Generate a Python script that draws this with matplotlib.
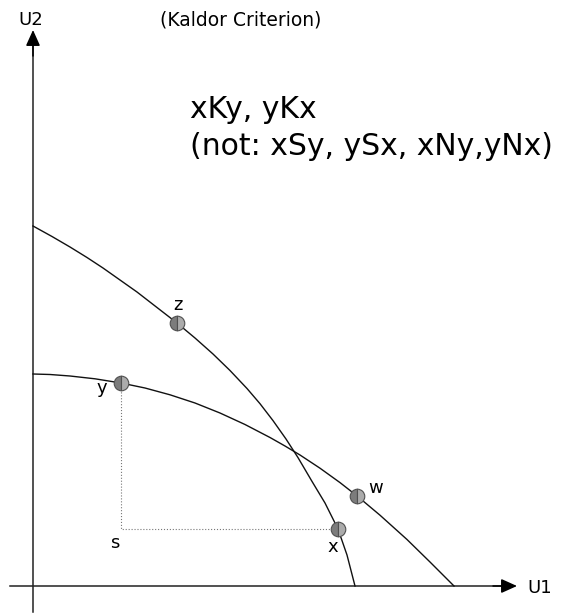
import numpy as np
import matplotlib
matplotlib.use("Agg")
import matplotlib.pyplot as plt

# utility frontiers (U1, U2)
frontier_a_u1 = [0, 19, 37, 54, 70, 87, 104, 124, 144, 162, 180, 197, 214,
                 227, 240, 253, 265, 279, 292, 305, 314, 322]
frontier_a_u2 = [360, 349.5, 339, 328.5, 318, 306, 294, 278.5, 263, 248, 232,
                 215.5, 197.5, 182.3, 165.4, 147, 128.4, 104.6, 83, 57, 31, 0]
frontier_b_u1 = [0, 17, 37, 62, 88, 112, 137, 162, 187, 212, 237, 252, 267,
                 287, 307, 324, 347, 374, 397, 421]
frontier_b_u2 = [212, 211.5, 210, 207.2, 203, 198, 191.2, 183, 173, 161.5,
                 148.5, 140, 131, 117.8, 103.4, 90.1, 70.8, 46.5, 24, 0]

# named allocations
point_names = ["y", "z", "x", "w"]
point_u1 = [88, 144, 305, 324]
point_u2 = [203, 263, 57, 90]

fig = plt.figure(figsize=(5.75, 6.15), dpi=100)
ax = fig.add_axes([0, 0, 1, 1])
ax.set_xlim(-33, 542)
ax.set_ylim(-29, 586)
ax.axis("off")

# axes with arrows
ax.plot([-23, 480], [0, 0], color="#222222", lw=1.1)
ax.plot([0, 0], [-26, 545], color="#222222", lw=1.1)
ax.annotate("", xy=(484, 0), xytext=(460, 0),
            arrowprops=dict(arrowstyle="-|>,head_length=0.8,head_width=0.36",
                            mutation_scale=12, color="black", lw=1.1,
                            shrinkA=0, shrinkB=0))
ax.annotate("", xy=(0, 556), xytext=(0, 530),
            arrowprops=dict(arrowstyle="-|>,head_length=0.8,head_width=0.36",
                            mutation_scale=12, color="black", lw=1.1,
                            shrinkA=0, shrinkB=0))
ax.text(494, -7, "U1", fontsize=13, va="baseline", ha="left")
ax.text(-15, 561, "U2", fontsize=13, va="baseline", ha="left")

# frontiers
ax.plot(frontier_a_u1, frontier_a_u2, color="#111111", lw=1.0)
ax.plot(frontier_b_u1, frontier_b_u2, color="#111111", lw=1.0)

# dotted box from y to x via s
yi = point_names.index("y")
xi = point_names.index("x")
ax.plot([point_u1[yi], point_u1[yi], point_u1[xi]],
        [point_u2[yi], point_u2[xi], point_u2[xi]],
        color="#777777", lw=0.8, ls=":")

ax.plot(point_u1, point_u2, ls="none", marker="o", markersize=10.5,
        fillstyle="left", markerfacecolor="#7c7c7c",
        markerfacecoloralt="#ababab", markeredgecolor="#505050",
        markeredgewidth=0.8, zorder=5)

# point labels
label_pos = {"z": (140, 276), "y": (64, 193), "x": (294, 34), "w": (335, 93),
             "s": (77, 38)}
for name, (lx, ly) in label_pos.items():
    ax.text(lx, ly, name, fontsize=13, va="baseline", ha="left")

ax.text(127, 561, "(Kaldor Criterion)", fontsize=13.5, va="baseline", ha="left")
ax.text(157, 468, "xKy, yKx", fontsize=21.5, va="baseline", ha="left")
ax.text(157, 431, "(not: xSy, ySx, xNy,yNx)", fontsize=21.5,
        va="baseline", ha="left")

fig.savefig("out.png", dpi=100)
